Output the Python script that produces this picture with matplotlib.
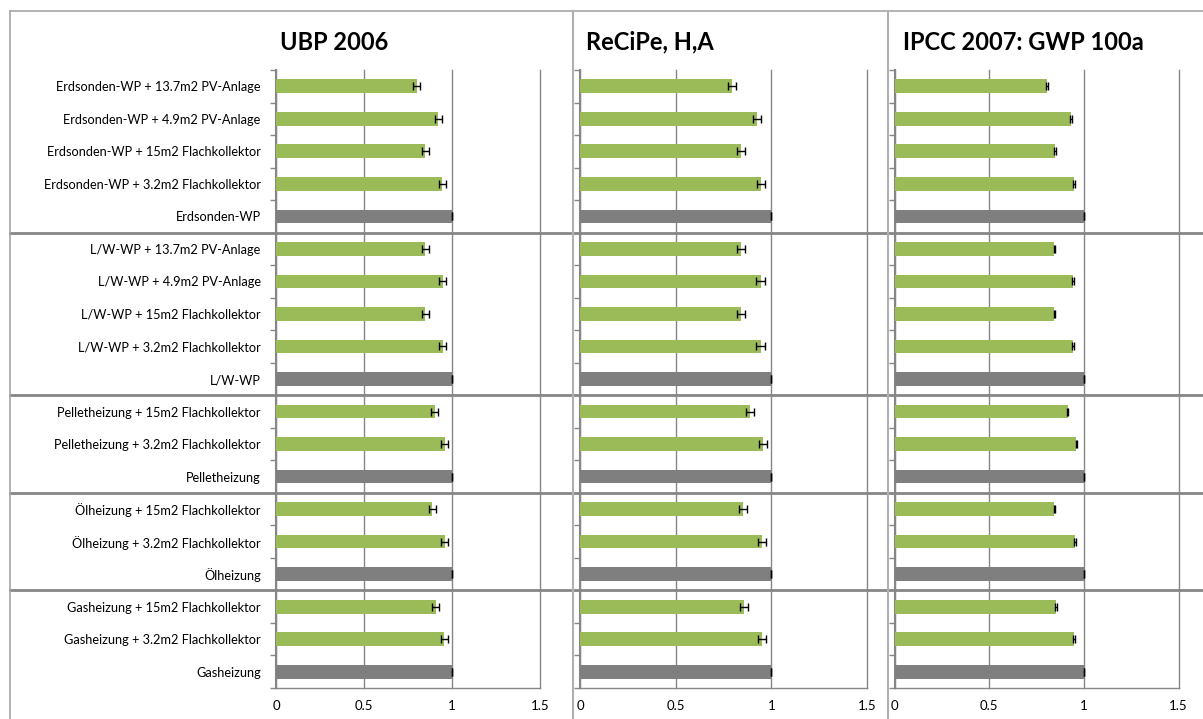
import matplotlib
matplotlib.use("Agg")
import matplotlib.pyplot as plt
import numpy as np
from matplotlib.lines import Line2D
from matplotlib.transforms import blended_transform_factory

plt.rcParams['font.family'] = ['Lato', 'DejaVu Sans']

labels = [
    "Erdsonden-WP + 13.7m2 PV-Anlage",
    "Erdsonden-WP + 4.9m2 PV-Anlage",
    "Erdsonden-WP + 15m2 Flachkollektor",
    "Erdsonden-WP + 3.2m2 Flachkollektor",
    "Erdsonden-WP",
    "L/W-WP + 13.7m2 PV-Anlage",
    "L/W-WP + 4.9m2 PV-Anlage",
    "L/W-WP + 15m2 Flachkollektor",
    "L/W-WP + 3.2m2 Flachkollektor",
    "L/W-WP",
    "Pelletheizung + 15m2 Flachkollektor",
    "Pelletheizung + 3.2m2 Flachkollektor",
    "Pelletheizung",
    "Ölheizung + 15m2 Flachkollektor",
    "Ölheizung + 3.2m2 Flachkollektor",
    "Ölheizung",
    "Gasheizung + 15m2 Flachkollektor",
    "Gasheizung + 3.2m2 Flachkollektor",
    "Gasheizung",
]
is_reference = [False, False, False, False, True,
                False, False, False, False, True,
                False, False, True,
                False, False, True,
                False, False, True]
group_sizes = [5, 5, 3, 3, 3]

titles = ["UBP 2006", "ReCiPe, H,A", "IPCC 2007: GWP 100a"]

ubp = [0.800, 0.921, 0.847, 0.946, 1.0,
       0.849, 0.947, 0.849, 0.947, 1.0,
       0.901, 0.958, 1.0,
       0.889, 0.958, 1.0,
       0.908, 0.956, 1.0]
recipe = [0.794, 0.925, 0.842, 0.946, 1.0,
          0.840, 0.944, 0.840, 0.944, 1.0,
          0.887, 0.955, 1.0,
          0.852, 0.951, 1.0,
          0.857, 0.951, 1.0]
ipcc = [0.806, 0.931, 0.846, 0.947, 1.0,
        0.845, 0.945, 0.845, 0.945, 1.0,
        0.914, 0.961, 1.0,
        0.845, 0.952, 1.0,
        0.851, 0.948, 1.0]

ubp_err = [0.02, 0.02, 0.02, 0.02, 0.0,
           0.02, 0.02, 0.02, 0.02, 0.0,
           0.02, 0.02, 0.0,
           0.02, 0.02, 0.0,
           0.02, 0.02, 0.0]
recipe_err = [0.022, 0.022, 0.022, 0.022, 0.0,
              0.022, 0.022, 0.022, 0.022, 0.0,
              0.022, 0.022, 0.0,
              0.022, 0.022, 0.0,
              0.022, 0.022, 0.0]
ipcc_err = [0.005, 0.005, 0.005, 0.005, 0.0,
            0.005, 0.005, 0.005, 0.005, 0.0,
            0.005, 0.005, 0.0,
            0.005, 0.005, 0.0,
            0.005, 0.005, 0.0]

series = [ubp, recipe, ipcc]
errors = [ubp_err, recipe_err, ipcc_err]

GREEN = "#9BBB59"
GREY = "#7F7F7F"
LINE = "#868686"

W, H = 1203, 719
fig = plt.figure(figsize=(W / 100, H / 100), dpi=100)

# axes positions in pixels: (left, width)
panel_px = [(276, 264), (580, 287), (894.5, 284)]
top_px, bottom_px = 70, 688
title_x = [280, 586, 903]

y = np.arange(len(labels))
colors = [GREY if r else GREEN for r in is_reference]

axes = []
for i, (lp, wp) in enumerate(panel_px):
    ax = fig.add_axes([lp / W, (H - bottom_px) / H, wp / W, (bottom_px - top_px) / H])
    ax.barh(y, series[i], height=0.42, color=colors, zorder=3)
    ax.errorbar(series[i], y, xerr=errors[i], fmt='none', ecolor='black',
                elinewidth=1, capsize=3, capthick=1, zorder=4)
    ax.set_xlim(0, 1.5)
    ax.set_ylim(len(labels) - 0.5, -0.5)
    ax.set_xticks([0, 0.5, 1, 1.5])
    ax.set_xticklabels(["0", "0.5", "1", "1.5"], fontsize=9.5)
    ax.tick_params(axis='x', length=0, pad=9, colors='black')
    ax.grid(axis='x', color=LINE, linewidth=1, zorder=0)
    for gl in ax.get_xgridlines():
        gl.set_clip_on(False)
    ax.set_yticks(y)
    if i == 0:
        ax.set_yticklabels(labels, fontsize=9.2)
    else:
        ax.set_yticklabels([])
    ax.tick_params(axis='y', which='major', length=0, pad=11)
    ax.set_yticks(np.arange(-0.5, len(labels), 1.0), minor=True)
    ax.tick_params(axis='y', which='minor', length=4, color=LINE, width=1)
    for s in ['top', 'right']:
        ax.spines[s].set_visible(False)
    ax.spines['left'].set_color(LINE)
    ax.spines['left'].set_linewidth(1.5)
    ax.spines['bottom'].set_color(LINE)
    ax.spines['bottom'].set_linewidth(1)
    ax.set_facecolor('none')
    fig.text(title_x[i] / W, 1 - 42 / H, titles[i], fontsize=17, fontweight='bold',
             ha='left', va='center')
    axes.append(ax)

# group separators, positioned in data coordinates of the first axes
tr = blended_transform_factory(fig.transFigure, axes[0].transData)
bounds = np.cumsum(group_sizes)[:-1] - 0.5
for b in bounds:
    fig.add_artist(Line2D([10 / W, 1.0], [b, b], transform=tr, color=LINE, linewidth=2))

# frame lines
fig.add_artist(Line2D([10 / W, 1.0], [1 - 11 / H, 1 - 11 / H], transform=fig.transFigure,
                      color="#a6a6a6", linewidth=1.2))
fig.add_artist(Line2D([10 / W, 10 / W], [0, 1 - 11 / H], transform=fig.transFigure,
                      color="#a6a6a6", linewidth=1.2))
for xp in [573, 888]:
    fig.add_artist(Line2D([xp / W, xp / W], [0, 1 - 11 / H], transform=fig.transFigure,
                          color="#b0b0b0", linewidth=1.5))

fig.savefig("out.png", dpi=100)
